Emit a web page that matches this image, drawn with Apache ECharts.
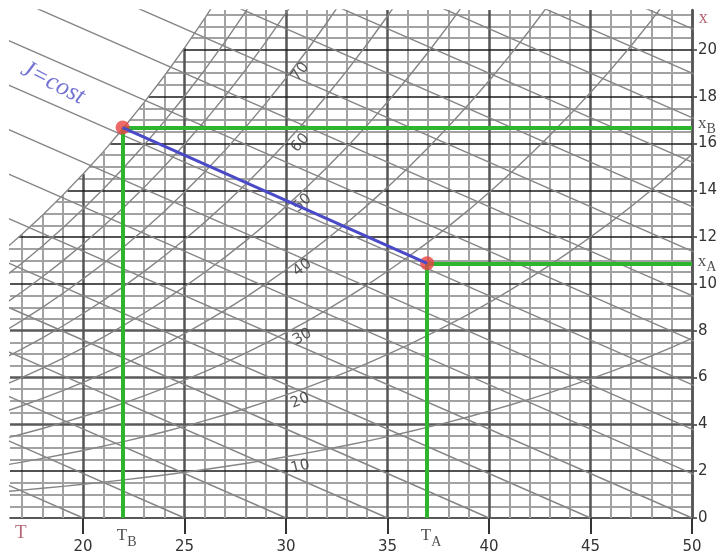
<!DOCTYPE html>
<html>
<head>
<meta charset="utf-8">
<script src="https://cdn.jsdelivr.net/npm/echarts@6/dist/echarts.min.js"></script>
<style>
html,body{margin:0;padding:0;background:#fff}
#chart{width:721px;height:557px}
</style>
</head>
<body>
<div id="chart"></div>
<script>
// saturation vapour pressure of water (kPa) for each temperature (°C)
const satT = [16,17,18,19,20,21,22,23,24,25,26,27,28,29,30,31,32,33,34,35,36,37,38,39,40,41,42,43,44,45,46,47,48,49,50];
const satP = [1.818,1.938,2.064,2.198,2.339,2.487,2.645,2.810,2.985,3.169,3.363,3.567,3.782,4.008,4.246,4.496,4.759,5.034,5.324,5.628,5.947,6.281,6.631,6.998,7.384,7.788,8.210,8.650,9.110,9.590,10.09,10.61,11.16,11.74,12.35];
const pAir = 101.325;

// relative humidity curves (fraction)
const rhLevels = [0.1,0.2,0.3,0.4,0.5,0.6,0.7,0.8,0.9,1.0];
// J=cost lines: temperature where each line meets x=0, and their slope (g/kg per °C)
const jLineT0 = [20,25,30,35,40,45,50,55,60,65,70,75,80,85,90,95,100,105];
const jSlope = 0.38;

const xTicks = [20,25,30,35,40,45,50];
const yTicks = [0,2,4,6,8,10,12,14,16,18,20];
const greyRows = [4,6,8]; // these x lines are drawn dark grey, the other even ones black

// labels of the RH curves, where they sit and how they are turned
const rhLabels = ['10','20','30','40','50','60','70'];
const rhLabelT = [30.7,30.7,30.8,30.8,30.8,30.7,30.7];
const rhLabelX = [2.19,5.01,7.74,10.69,13.46,16.02,19.06];
const rhLabelRot = [14,22,30,37,43,48,52];

const pointB = [21.95, 16.68];
const pointA = [36.95, 10.88];

const Tmin = 16.4, Tmax = 50, Xmax = 21.7;

const xOf = (p, phi) => 622 * phi * p / (pAir - phi * p);
const satX = satT.map((t, i) => xOf(satP[i], 1));

function tSat(x) {
    if (x <= satX[0]) return Tmin;
    for (let i = 1; i < satT.length; i++) {
        if (satX[i] >= x) {
            const f = (x - satX[i-1]) / (satX[i] - satX[i-1]);
            return satT[i-1] + f * (satT[i] - satT[i-1]);
        }
    }
    return Tmax;
}

// grid below the saturation curve
const minorGrid = [], majorV = [], majorH = [], greyH = [];
satT.forEach((t, i) => {
    if (t <= Tmin) return;
    const seg = {coords: [[t, 0], [t, Math.min(satX[i], Xmax)]]};
    if (t % 5 === 0) majorV.push(seg); else minorGrid.push(seg);
});
for (let k = 1; k <= 43; k++) {
    const x = k * 0.5;
    const seg = {coords: [[tSat(x), x], [Tmax, x]]};
    if (k % 4 !== 0) minorGrid.push(seg);
    else if (greyRows.includes(x)) greyH.push(seg);
    else majorH.push(seg);
}

const jLines = jLineT0.map(t0 => ({coords: [[t0, 0], [10, (t0 - 10) * jSlope]]}));
const rhCurves = rhLevels.map(phi => ({coords: satT.map((t, i) => [t, xOf(satP[i], phi)])}));

const sub = {
    m: {fontFamily: 'Liberation Serif', fontSize: 17, color: '#222'},
    s: {fontFamily: 'Liberation Serif', fontSize: 14, color: '#222', padding: [12, 0, 0, 0]}
};

const textPoints = [];
rhLabels.forEach((s, i) => {
    textPoints.push({value: [rhLabelT[i], rhLabelX[i]], label: {formatter: s, rotate: rhLabelRot[i],
        fontFamily: 'DejaVu Sans', fontSize: 15, color: '#333'}});
});
textPoints.push({value: [18.51, 18.59], label: {formatter: 'J=cost', rotate: -27, fontFamily: 'Liberation Serif',
    fontStyle: 'italic', fontSize: 25, color: '#5050c8'}});
textPoints.push({value: [16.93, 0], label: {formatter: 'T', offset: [0, 15], fontFamily: 'Liberation Serif',
    fontSize: 19, color: '#a04050'}});
textPoints.push({value: [50.56, 21.36], label: {formatter: 'x', fontFamily: 'Liberation Serif',
    fontSize: 18, color: '#a04050'}});
textPoints.push({value: [pointB[0], 0], label: {formatter: '{m|T}{s|B}', rich: sub, offset: [4, 18]}});
textPoints.push({value: [pointA[0], 0], label: {formatter: '{m|T}{s|A}', rich: sub, offset: [4, 18]}});
textPoints.push({value: [Tmax, pointB[1]], label: {formatter: '{m|x}{s|B}', rich: sub, offset: [15, -4]}});
textPoints.push({value: [Tmax, pointA[1]], label: {formatter: '{m|x}{s|A}', rich: sub, offset: [15, -2]}});

const gridLine = (data, color, width) => ({type: 'lines', coordinateSystem: 'cartesian2d', clip: true,
    silent: true, data: data, lineStyle: {color: color, width: width, opacity: 1}});

const chart = echarts.init(document.getElementById('chart'));
chart.setOption({
    animation: false,
    backgroundColor: '#fff',
    grid: {left: 10, right: 29, top: 10, bottom: 39},
    xAxis: {
        type: 'value', min: Tmin, max: Tmax,
        splitLine: {show: false},
        axisLine: {lineStyle: {color: '#222', width: 1.5}},
        axisTick: {customValues: xTicks, length: 16, lineStyle: {color: '#333', width: 2}},
        axisLabel: {customValues: xTicks, margin: 22, fontFamily: 'DejaVu Sans', fontSize: 15, color: '#333'}
    },
    yAxis: {
        type: 'value', min: 0, max: Xmax, position: 'right',
        splitLine: {show: false},
        axisLine: {show: true, lineStyle: {color: '#555', width: 2.5}},
        axisTick: {show: true, customValues: yTicks, length: 5, lineStyle: {color: '#333', width: 1.5}},
        axisLabel: {customValues: yTicks, margin: 6, fontFamily: 'DejaVu Sans', fontSize: 15, color: '#333'}
    },
    series: [
        gridLine(minorGrid, '#a2a2a2', 2),
        gridLine(majorV, '#555', 2.5),
        gridLine(greyH, '#5a5a5a', 2.5),
        gridLine(majorH, '#1a1a1a', 1.6),
        gridLine(jLines, '#858585', 1.4),
        Object.assign(gridLine(rhCurves, '#858585', 1.4), {polyline: true}),
        {type: 'line', data: [pointB, pointA], symbol: 'none', lineStyle: {color: '#4a4ac8', width: 3}},
        {type: 'lines', coordinateSystem: 'cartesian2d', data: [
            {coords: [pointB, [Tmax, pointB[1]]]}, {coords: [pointB, [pointB[0], 0]]},
            {coords: [pointA, [Tmax, pointA[1]]]}, {coords: [pointA, [pointA[0], 0]]}
        ], lineStyle: {color: '#2db52d', width: 4, opacity: 1}},
        {type: 'scatter', data: [pointB, pointA], symbolSize: 14, itemStyle: {color: '#e84444'}},
        {type: 'scatter', clip: false, silent: true, symbolSize: 0, data: textPoints,
            label: {show: true, position: 'inside'}}
    ]
});
</script>
</body>
</html>
